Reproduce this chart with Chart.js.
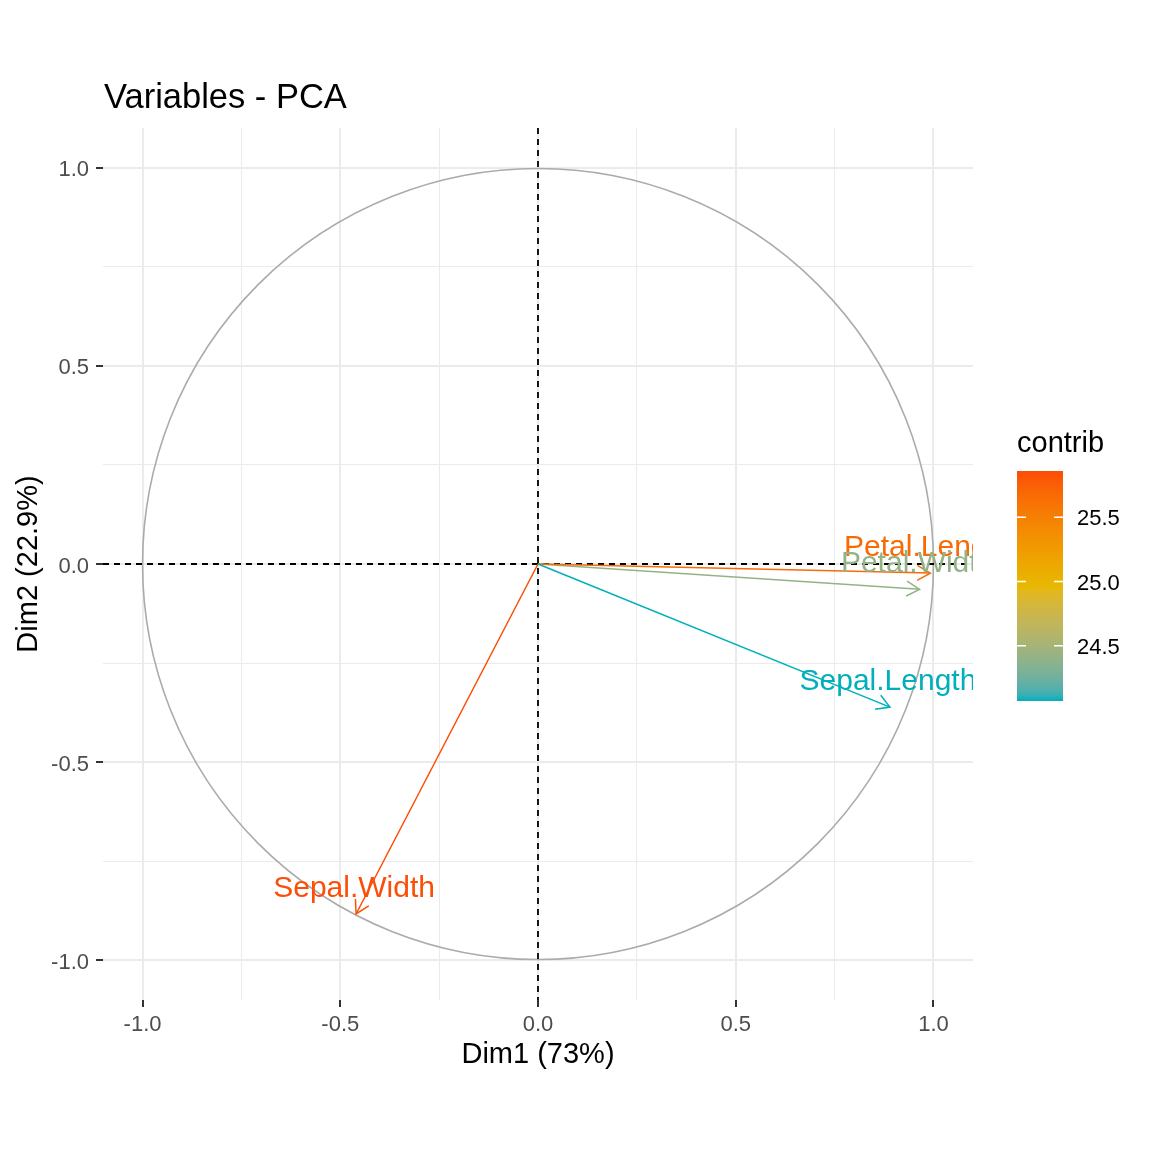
<!DOCTYPE html>
<html>
<head>
<meta charset="utf-8">
<script src="https://cdn.jsdelivr.net/npm/chart.js@4/dist/chart.umd.min.js"></script>
<style>
  html, body { margin: 0; padding: 0; background: #fff; }
  canvas { display: block; }
</style>
</head>
<body>
<canvas id="pca" width="1152" height="1152"></canvas>
<script>
// data (iris PCA, variables)
const variables = ["Sepal.Length", "Sepal.Width", "Petal.Length", "Petal.Width"];
const dim1 = [0.890, -0.460, 0.992, 0.965];
const dim2 = [-0.361, -0.883, -0.023, -0.064];
const contrib = [24.07, 25.86, 25.67, 24.40];

const majorTicks = [-1, -0.5, 0, 0.5, 1];
const minorTicks = [-0.75, -0.25, 0.25, 0.75];
const legendTicks = [24.5, 25.0, 25.5];
const gradientCols = ["#00AFBB", "#E7B800", "#FC4E07"];

const FONT = "'Liberation Sans', Arial, sans-serif";
Chart.defaults.font.family = FONT;

// --- couleur : interpolation en Lab (comme ggplot) ---
function hexToRgb(h) {
  return [1, 3, 5].map(i => parseInt(h.slice(i, i + 2), 16));
}
function toLin(c) { c /= 255; return c <= 0.04045 ? c / 12.92 : Math.pow((c + 0.055) / 1.055, 2.4); }
function fromLin(c) { const v = c <= 0.0031308 ? 12.92 * c : 1.055 * Math.pow(c, 1 / 2.4) - 0.055; return Math.round(Math.min(1, Math.max(0, v)) * 255); }
function rgbToLab(rgb) {
  const [r, g, b] = rgb.map(toLin);
  const X = (0.4124564 * r + 0.3575761 * g + 0.1804375 * b) / 0.95047;
  const Y = (0.2126729 * r + 0.7151522 * g + 0.0721750 * b);
  const Z = (0.0193339 * r + 0.1191920 * g + 0.9503041 * b) / 1.08883;
  const f = t => t > 0.008856 ? Math.cbrt(t) : 7.787 * t + 16 / 116;
  const fx = f(X), fy = f(Y), fz = f(Z);
  return [116 * fy - 16, 500 * (fx - fy), 200 * (fy - fz)];
}
function labToRgb([L, a, bb]) {
  const fy = (L + 16) / 116, fx = fy + a / 500, fz = fy - bb / 200;
  const inv = t => t > 0.206893 ? t * t * t : (t - 16 / 116) / 7.787;
  const X = inv(fx) * 0.95047, Y = inv(fy), Z = inv(fz) * 1.08883;
  const r = 3.2404542 * X - 1.5371385 * Y - 0.4985314 * Z;
  const g = -0.9692660 * X + 1.8760108 * Y + 0.0415560 * Z;
  const b = 0.0556434 * X - 0.2040259 * Y + 1.0572252 * Z;
  return `rgb(${fromLin(r)},${fromLin(g)},${fromLin(b)})`;
}
const LABS = gradientCols.map(c => rgbToLab(hexToRgb(c)));
const cMin = Math.min(...contrib), cMax = Math.max(...contrib);

function colorAt(t) {
  t = Math.min(1, Math.max(0, t));
  const seg = t < 0.5 ? 0 : 1;
  const u = seg === 0 ? t / 0.5 : (t - 0.5) / 0.5;
  const A = LABS[seg], B = LABS[seg + 1];
  return labToRgb(A.map((v, i) => v + (B[i] - v) * u));
}
function colorForContrib(v) { return colorAt((v - cMin) / (cMax - cMin)); }

const cols = contrib.map(colorForContrib);

const isMajor = v => majorTicks.some(m => Math.abs(m - v) < 1e-9);
const gridVals = [...majorTicks, ...minorTicks].sort((a, b) => a - b);

function axisOpts(titleText, isX) {
  return {
    type: "linear",
    min: -1.1,
    max: 1.1,
    afterBuildTicks: s => { s.ticks = gridVals.map(v => ({ value: v })); },
    afterFit: s => { if (isX) s.height = 72; else s.width = 91; },
    ticks: {
      autoSkip: false,
      maxRotation: 0,
      padding: isX ? 5 : 7,
      labelOffset: isX ? 0 : 2.5,
      color: "#4D4D4D",
      font: { size: 22, family: FONT },
      callback: v => isMajor(v) ? v.toFixed(1) : ""
    },
    grid: {
      color: "#EBEBEB",
      lineWidth: ctx => isMajor(ctx.tick.value) ? 2 : 1,
      tickColor: ctx => isMajor(ctx.tick.value) ? "#000" : "rgba(0,0,0,0)",
      tickLength: 7,
      tickWidth: 1.6
    },
    border: { display: false },
    title: {
      display: true,
      text: titleText,
      color: "#000",
      padding: 0,
      font: { size: 29, family: FONT }
    }
  };
}

/* =========================
   cercle, pointillés, flèches, étiquettes, titre, légende
========================= */
const pcaPlugin = {
  id: "pcaExtras",
  beforeDatasetsDraw(chart) {
    const { ctx, chartArea: a, scales: { x, y } } = chart;
    const cx = x.getPixelForValue(0), cy = y.getPixelForValue(0);
    const r = x.getPixelForValue(1) - cx;

    ctx.save();
    ctx.strokeStyle = "#ABABAB";
    ctx.lineWidth = 1.6;
    ctx.beginPath();
    ctx.arc(cx, cy, r, 0, Math.PI * 2);
    ctx.stroke();

    ctx.strokeStyle = "#000";
    ctx.lineWidth = 1.8;
    ctx.setLineDash([6, 5]);
    ctx.beginPath();
    ctx.moveTo(a.left, cy); ctx.lineTo(a.right, cy);
    ctx.moveTo(cx, a.top); ctx.lineTo(cx, a.bottom);
    ctx.stroke();
    ctx.restore();
  },
  afterDatasetsDraw(chart) {
    const { ctx, chartArea: a, scales: { x, y } } = chart;
    const ox = x.getPixelForValue(0), oy = y.getPixelForValue(0);

    ctx.save();
    ctx.beginPath();
    ctx.rect(a.left, a.top, a.right - a.left, a.bottom - a.top);
    ctx.clip();

    variables.forEach((name, i) => {
      const px = x.getPixelForValue(dim1[i]), py = y.getPixelForValue(dim2[i]);
      const ang = Math.atan2(py - oy, px - ox);
      const L = 15, spread = Math.PI / 6;
      ctx.strokeStyle = cols[i];
      ctx.lineWidth = 1.5;
      ctx.beginPath();
      ctx.moveTo(px - L * Math.cos(ang - spread), py - L * Math.sin(ang - spread));
      ctx.lineTo(px, py);
      ctx.lineTo(px - L * Math.cos(ang + spread), py - L * Math.sin(ang + spread));
      ctx.stroke();
    });

    ctx.font = `30px ${FONT}`;
    ctx.textAlign = "center";
    ctx.textBaseline = "alphabetic";
    variables.forEach((name, i) => {
      const px = x.getPixelForValue(dim1[i]), py = y.getPixelForValue(dim2[i]);
      ctx.fillStyle = cols[i];
      ctx.fillText(name, px - 2, py - 17);
    });
    ctx.restore();
  },
  afterDraw(chart) {
    const { ctx } = chart;
    ctx.save();

    // titre
    ctx.fillStyle = "#000";
    ctx.font = `34.5px ${FONT}`;
    ctx.textAlign = "left";
    ctx.textBaseline = "alphabetic";
    ctx.fillText("Variables - PCA", 104, 108);

    // légende (barre de couleur)
    const bx = 1017, bw = 46, bTop = 471, bBot = 701;
    ctx.font = `29px ${FONT}`;
    ctx.fillText("contrib", 1017, 452);

    const grad = ctx.createLinearGradient(0, bBot, 0, bTop);
    for (let k = 0; k <= 40; k++) grad.addColorStop(k / 40, colorAt(k / 40));
    ctx.fillStyle = grad;
    ctx.fillRect(bx, bTop, bw, bBot - bTop);

    ctx.font = `22px ${FONT}`;
    legendTicks.forEach(v => {
      const ty = bBot - (v - cMin) / (cMax - cMin) * (bBot - bTop);
      ctx.strokeStyle = "#fff";
      ctx.lineWidth = 1.5;
      ctx.beginPath();
      ctx.moveTo(bx, ty); ctx.lineTo(bx + 9, ty);
      ctx.moveTo(bx + bw - 9, ty); ctx.lineTo(bx + bw, ty);
      ctx.stroke();
      ctx.fillStyle = "#000";
      ctx.fillText(v.toFixed(1), 1077, ty + 8);
    });
    ctx.restore();
  }
};

new Chart(document.getElementById("pca"), {
  type: "scatter",
  data: {
    datasets: variables.map((name, i) => ({
      label: name,
      data: [{ x: 0, y: 0 }, { x: dim1[i], y: dim2[i] }],
      showLine: true,
      borderColor: cols[i],
      backgroundColor: cols[i],
      borderWidth: 1.5,
      pointRadius: 0
    }))
  },
  options: {
    responsive: false,
    animation: false,
    layout: { padding: { left: 12, right: 179, top: 128, bottom: 80 } },
    plugins: {
      legend: { display: false },
      tooltip: { enabled: false },
      title: { display: false }
    },
    scales: {
      x: axisOpts("Dim1 (73%)", true),
      y: axisOpts("Dim2 (22.9%)", false)
    }
  },
  plugins: [pcaPlugin]
});
</script>
</body>
</html>
